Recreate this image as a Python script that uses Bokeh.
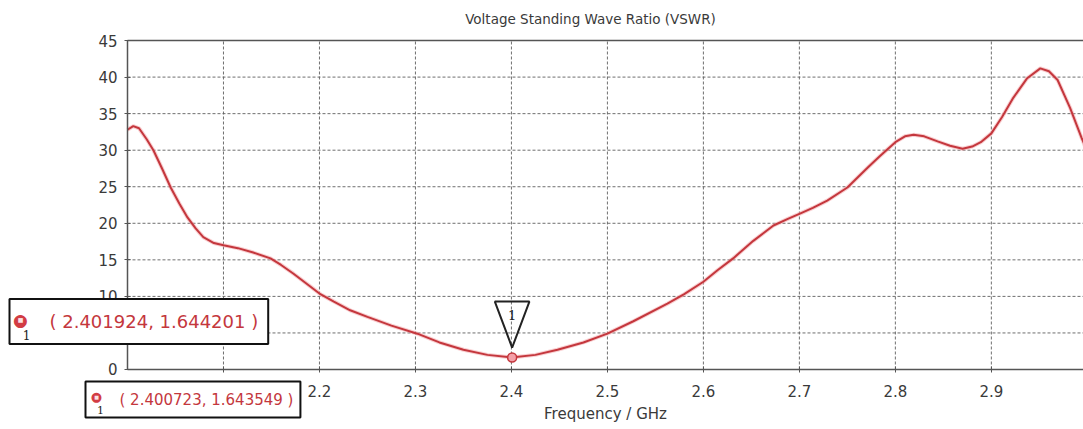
from bokeh.plotting import figure
from bokeh.models import Label, FixedTicker, Range1d, LinearAxis, ColumnDataSource
from bokeh.embed import file_html
from bokeh.resources import INLINE

# ---------------- data ----------------
freq = [2.000, 2.006, 2.012, 2.020, 2.027, 2.036, 2.045, 2.054, 2.0625, 2.071,
        2.079, 2.090, 2.100, 2.115, 2.131, 2.149, 2.160, 2.173, 2.187, 2.201,
        2.215, 2.232, 2.250, 2.275, 2.302, 2.325, 2.350, 2.375, 2.400, 2.425,
        2.448, 2.475, 2.500, 2.527, 2.5625, 2.580, 2.600, 2.615, 2.631, 2.652,
        2.673, 2.688, 2.700, 2.714, 2.729, 2.750, 2.771, 2.784, 2.800, 2.810,
        2.819, 2.830, 2.844, 2.857, 2.870, 2.880, 2.889, 2.900, 2.911, 2.923,
        2.937, 2.951, 2.960, 2.969, 2.982, 2.994, 3.000]
vswr = [32.8, 33.3, 33.0, 31.5, 30.0, 27.5, 24.9, 22.7, 20.8, 19.3,
        18.1, 17.3, 17.0, 16.6, 16.0, 15.2, 14.3, 13.1, 11.7, 10.3,
        9.3, 8.1, 7.2, 6.0, 4.9, 3.7, 2.7, 2.0, 1.64, 2.0,
        2.7, 3.7, 4.9, 6.6, 9.0, 10.3, 12.0, 13.6, 15.2, 17.6,
        19.7, 20.6, 21.3, 22.1, 23.1, 24.9, 27.6, 29.2, 31.1, 31.9,
        32.1, 31.9, 31.2, 30.6, 30.2, 30.5, 31.1, 32.3, 34.5, 37.2,
        39.8, 41.2, 40.8, 39.6, 35.8, 31.7, 29.8]
marker_x = [2.400723]
marker_y = [1.643549]
marker_name = ["1"]
x_ticks = [2.1, 2.2, 2.3, 2.4, 2.5, 2.6, 2.7, 2.8, 2.9, 3.0]
y_ticks = [0, 5, 10, 15, 20, 25, 30, 35, 40, 45]
x_bounds = (2.0, 3.0)
y_bounds = (0, 45)
title_text = "Voltage Standing Wave Ratio (VSWR)"
x_label = "Frequency / GHz"
readout_1 = (2.401924, 1.644201)
readout_2 = (2.400723, 1.643549)

# ---------------- styles ----------------
FONT = "DejaVu Sans"
TXT = "#3a3a3a"
AX = "#555555"
RED = "#c4373d"
GRID = "#5f5f5f"

# frame covers whole canvas; axes are pinned with fixed_location
p = figure(width=1083, height=429, output_backend="svg", toolbar_location=None,
           x_range=Range1d(1.8677, 2.996), y_range=Range1d(-8.21, 50.48),
           min_border=0, x_axis_location=None, y_axis_location=None)
p.outline_line_color = None
p.background_fill_color = "white"
p.xgrid.visible = False
p.ygrid.visible = False

def style_axis(ax):
    ax.axis_line_color = AX
    ax.axis_line_width = 1.5
    ax.major_tick_line_color = AX
    ax.major_tick_in = 3
    ax.major_tick_out = 3
    ax.minor_tick_line_color = None
    ax.major_label_text_font = FONT
    ax.major_label_text_font_size = "15px"
    ax.major_label_text_color = TXT

# grid lines limited to the plot area (drawn from the tick arrays)
gx = [t for t in x_ticks if x_bounds[0] < t < x_bounds[1]]
gy = [t for t in y_ticks if y_bounds[0] < t < y_bounds[1]]
p.segment(x0=gx, y0=[y_bounds[0]] * len(gx), x1=gx, y1=[y_bounds[1]] * len(gx),
          line_color=GRID, line_dash="3 2", line_width=1, line_alpha=0.9)
p.segment(x0=[x_bounds[0]] * len(gy), y0=gy, x1=[x_bounds[1]] * len(gy), y1=gy,
          line_color=GRID, line_dash="3 2", line_width=1, line_alpha=0.9)

xaxis = LinearAxis(fixed_location=y_bounds[0], bounds=x_bounds,
                   ticker=FixedTicker(ticks=x_ticks))
style_axis(xaxis)
xaxis.major_label_overrides = {t: (f"{t:.1f}" if t < 2.95 else "3") for t in x_ticks}
xaxis.major_label_standoff = 13
xaxis.axis_label = x_label
xaxis.axis_label_text_font = FONT
xaxis.axis_label_text_font_size = "15px"
xaxis.axis_label_text_font_style = "normal"
xaxis.axis_label_text_color = TXT
xaxis.axis_label_standoff = 4
p.add_layout(xaxis, "below")

yaxis = LinearAxis(fixed_location=x_bounds[0], bounds=y_bounds,
                   ticker=FixedTicker(ticks=y_ticks))
style_axis(yaxis)
yaxis.major_label_standoff = 7
p.add_layout(yaxis, "left")

top_axis = LinearAxis(fixed_location=y_bounds[1], bounds=x_bounds,
                      ticker=FixedTicker(ticks=[]), axis_line_color=AX,
                      axis_line_width=1.5, major_tick_line_color=None,
                      minor_tick_line_color=None, major_label_text_font_size="0px")
p.add_layout(top_axis, "above")

# curve
src = ColumnDataSource(dict(x=freq, y=vswr))
p.line("x", "y", source=src, line_color="#f4a0a4", line_width=4, line_alpha=0.5)
p.line("x", "y", source=src, line_color=RED, line_width=2)

# marker triangle (offsets from the marker point)
tri_x = [[marker_x[0] - 0.018, marker_x[0] + 0.018, marker_x[0]]]
tri_y = [[marker_y[0] + 7.65, marker_y[0] + 7.65, marker_y[0] + 1.35]]
p.patches(tri_x, tri_y, fill_color="white", fill_alpha=0.0, line_color="#222222", line_width=2)
p.text(x=marker_x, y=[marker_y[0] + 5.8], text=marker_name, text_align="center",
       text_baseline="middle", text_font_size="13px", text_color="#222222",
       text_font={"value": "DejaVu Serif"})
p.scatter(marker_x, marker_y, size=9, marker="circle", fill_color="#f3a0a8",
          line_color=RED, line_width=1.5)

# title
p.add_layout(Label(x=590, y=18, x_units="canvas", y_units="canvas", text=title_text,
                   text_align="center", text_baseline="middle", text_font=FONT,
                   text_font_size="13.5px", text_color=TXT))

# readout boxes (x = left edge of box, y = vertical centre)
def readout(x, y, vals, size, pad, dot_size, sq_size, one_size, dy_dot, dy_one, dx_one):
    p.add_layout(Label(x=x, y=y, x_units="canvas", y_units="canvas",
                       text=f"( {vals[0]:.6f}, {vals[1]:.6f} )",
                       text_align="left", text_baseline="middle", text_font=FONT,
                       text_font_size=size, text_color=RED,
                       background_fill_color="white", border_line_color="#111111",
                       border_line_width=2, padding=pad))
    p.add_layout(Label(x=x + 11, y=y + dy_dot, x_units="canvas", y_units="canvas",
                       text="●", text_align="center", text_baseline="middle",
                       text_font=FONT, text_font_size=dot_size, text_color="#d23c44"))
    p.add_layout(Label(x=x + 11, y=y + dy_dot, x_units="canvas", y_units="canvas",
                       text="■", text_align="center", text_baseline="middle",
                       text_font=FONT, text_font_size=sq_size, text_color="#fbe3e5"))
    p.add_layout(Label(x=x + dx_one, y=y + dy_one, x_units="canvas", y_units="canvas",
                       text="1", text_align="center", text_baseline="middle",
                       text_font="DejaVu Serif", text_font_size=one_size, text_color="#222222"))

readout(9, 321, readout_1, "18px", dict(left=40, right=10, top=12, bottom=12),
        "17px", "6px", "12px", -2, 13, 17)
readout(85, 399, readout_2, "15px", dict(left=34, right=7, top=9, bottom=9),
        "13px", "5px", "11px", -3, 10, 15)

open("out.html", "w").write(file_html(p, INLINE))
